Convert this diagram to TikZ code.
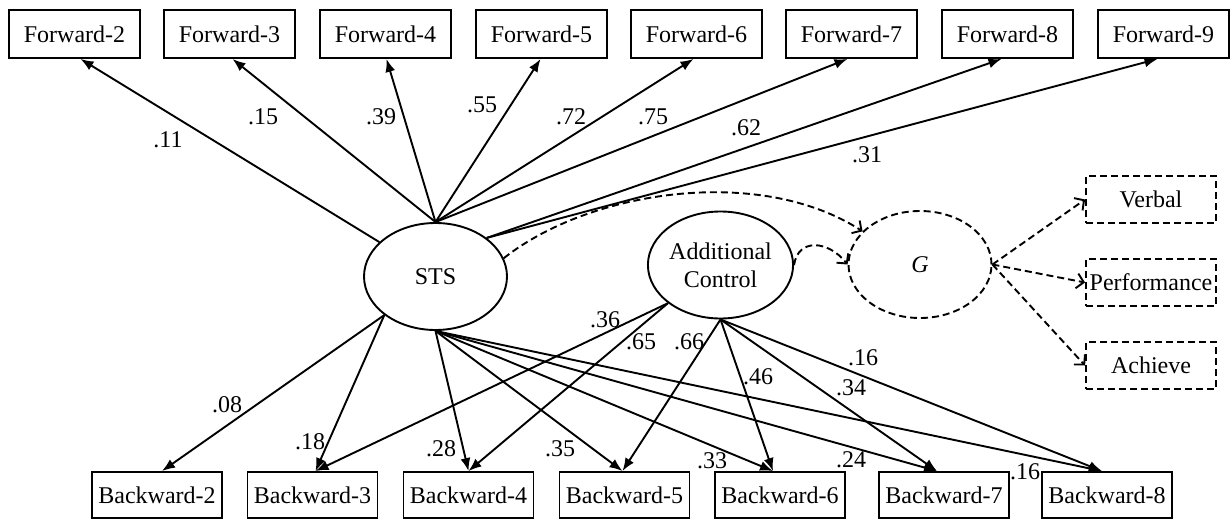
\documentclass[tikz,border=0pt]{standalone}
\usepackage{fontspec}
\setmainfont{Liberation Serif}
\usetikzlibrary{arrows.meta,shapes.geometric}
\begin{document}
\begin{tikzpicture}[x=1pt,y=-1pt,
  every node/.style={font=\fontsize{24}{28}\selectfont},
  obs/.style={draw, line width=1.9pt, minimum width=131pt, minimum height=48pt, inner sep=0pt},
  bobs/.style={obs, minimum width=130pt, minimum height=46pt},
  lat/.style={draw, ellipse, line width=1.9pt, inner sep=0pt, minimum width=143pt, minimum height=107pt},
  dsh/.style={dash pattern=on 7pt off 4pt},
  dobs/.style={obs, dsh, minimum width=130pt, minimum height=47pt},
  ar/.style={line width=1.9pt, -{Latex[length=13pt,width=10pt]}},
  dar/.style={line width=1.9pt, dsh, -{Straight Barb[length=7pt,width=15pt]}},
  lbl/.style={inner sep=0pt}
]
\useasboundingbox (0,0) rectangle (1231,519);
% top observed
\node[obs] (f2) at (74.5,34) {Forward-2};
\node[obs] (f3) at (229.5,34) {Forward-3};
\node[obs] (f4) at (385.5,34) {Forward-4};
\node[obs] (f5) at (541.5,34) {Forward-5};
\node[obs] (f6) at (696.5,34) {Forward-6};
\node[obs] (f7) at (851.5,34) {Forward-7};
\node[obs] (f8) at (1007.5,34) {Forward-8};
\node[obs] (f9) at (1163.5,34) {Forward-9};
% bottom observed
\node[bobs] (b2) at (157,495) {Backward-2};
\node[bobs] (b3) at (312.5,495) {Backward-3};
\node[bobs] (b4) at (468.5,495) {Backward-4};
\node[bobs] (b5) at (624.5,495) {Backward-5};
\node[bobs] (b6) at (780,495) {Backward-6};
\node[bobs] (b7) at (944,495) {Backward-7};
\node[bobs] (b8) at (1107,495) {Backward-8};
% latent
\node[lat] (sts) at (435.5,276.5) {STS};
\node[lat, align=center] (ac) at (720.5,265) {Additional\\Control};
\node[lat, dsh] (g) at (920,264.5) {\textit{G}};
% G indicators
\node[dobs] (verbal) at (1151,199.5) {Verbal};
\node[dobs] (perf) at (1151,282.5) {Performance};
\node[dobs] (ach) at (1151,365.5) {Achieve};
% STS -> forward
\draw[ar] (sts) -- ([xshift=6pt]f2.south);
\draw[ar] (sts.north) -- ([xshift=3pt]f3.south);
\draw[ar] (sts.north) -- ([xshift=1pt]f4.south);
\draw[ar] (sts.north) -- ([xshift=-1pt]f5.south);
\draw[ar] (sts.north) -- ([xshift=-3pt]f6.south);
\draw[ar] (sts.north) -- ([xshift=-4pt]f7.south);
\draw[ar] (sts.37) -- ([xshift=-6pt]f8.south);
\draw[ar] (sts.37) -- ([xshift=-6pt]f9.south);
% STS -> backward
\draw[ar] (sts.217) -- ([xshift=5pt]b2.north);
\draw[ar] (sts.217) -- ([xshift=3pt]b3.north);
\draw[ar] (sts.south) -- (b4.north);
\draw[ar] (sts.south) -- ([xshift=-2pt]b5.north);
\draw[ar] (sts.south) -- ([xshift=-7pt]b6.north);
\draw[ar] (sts.south) -- ([xshift=-7pt]b7.north);
\draw[ar] (sts.south) -- ([xshift=-5pt]b8.north);
% AC -> backward
\draw[ar] (ac.216) -- ([xshift=3pt]b3.north);
\draw[ar] (ac.216) -- (b4.north);
\draw[ar] (ac.south) -- ([xshift=-2pt]b5.north);
\draw[ar] (ac.south) -- ([xshift=-7pt]b6.north);
\draw[ar] (ac.south) -- ([xshift=-7pt]b7.north);
\draw[ar] (ac.south) -- ([xshift=-5pt]b8.north);
% dashed paths
\draw[dar] (sts.15) .. controls (590,190) and (760,165) .. (g.150);
\draw[dar] (ac.east) .. controls (798,238) and (828,240) .. (g.west);
\draw[dar] (g.east) -- (verbal.west);
\draw[dar] (g.east) -- (perf.west);
\draw[dar] (g.east) -- (ach.west);
% labels
\node[lbl] (l11) at (168,140) {.11};
\node[lbl] (l15) at (263,117) {.15};
\node[lbl] (l39) at (381,117) {.39};
\node[lbl] (l55) at (482,105) {.55};
\node[lbl] (l72) at (571,117) {.72};
\node[lbl] (l75) at (653,117) {.75};
\node[lbl] (l62) at (746,128) {.62};
\node[lbl] (l31) at (867,155) {.31};
\node[lbl] (l08) at (227,405) {.08};
\node[lbl] (l18) at (310,442) {.18};
\node[lbl] (l28) at (441,449) {.28};
\node[lbl] (l35) at (560,449) {.35};
\node[lbl] (l33) at (712,461) {.33};
\node[lbl] (l24) at (851,460) {.24};
\node[lbl] (l16b) at (1025,472) {.16};
\node[lbl] (l36) at (605,320) {.36};
\node[lbl] (l65) at (641,342) {.65};
\node[lbl] (l66) at (689,342) {.66};
\node[lbl] (l46) at (758,377) {.46};
\node[lbl] (l34) at (851,388) {.34};
\node[lbl] (l16a) at (863,358) {.16};
\end{tikzpicture}
\end{document}
